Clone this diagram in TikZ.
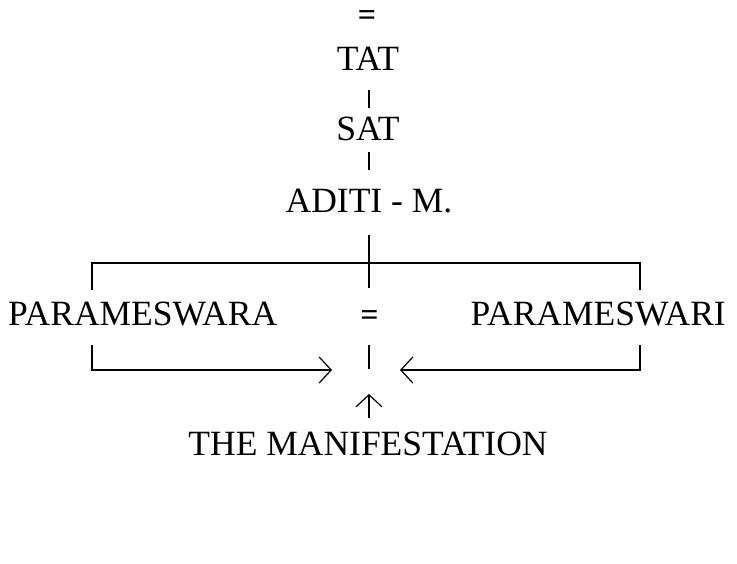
\documentclass[tikz,border=0pt]{standalone}
\usepackage{fontspec}
\setmainfont{Liberation Serif}
\usetikzlibrary{arrows.meta}
\begin{document}
\begin{tikzpicture}[x=1pt,y=1pt,
  lbl/.style={inner sep=0pt, font=\fontsize{35.5}{40}\selectfont},
  eq/.style={inner sep=0pt, font=\bfseries\fontsize{32}{36}\selectfont},
  ln/.style={line width=1.2pt, line cap=butt},
  arr/.style={ln, -{Straight Barb[length=12pt,width=26pt,line width=1.2pt]}}]
\useasboundingbox (0,0) rectangle (737,-563);
\node[eq, anchor=base] (eqtop) at (367,-25) {=};
\node[lbl, anchor=base] (tat) at (368,-70) {TAT};
\node[lbl, anchor=base] (sat) at (368,-140) {SAT};
\node[lbl, anchor=base] (aditi) at (369,-212) {ADITI - M.};
\node[lbl, anchor=base west] (pwa) at (8,-325) {PARAMESWARA};
\node[lbl, anchor=base east] (pwi) at (726,-325) {PARAMESWARI};
\node[eq, anchor=base] (eqmid) at (369.5,-325) {=};
\node[lbl, anchor=base] (man) at (368,-455) {THE MANIFESTATION};
% coordinates
\coordinate (b1a) at (369,-90);  \coordinate (b1b) at (369,-108);
\coordinate (b2a) at (369,-152); \coordinate (b2b) at (369,-170);
\coordinate (va) at (369,-235);  \coordinate (vb) at (369,-288);
\coordinate (lt) at (92,-290);   \coordinate (rt) at (640,-290);
\coordinate (hy) at (0,-263);
\coordinate (lb) at (92,-345);   \coordinate (rb) at (640,-345);
\coordinate (la) at (332,-370);  \coordinate (ra) at (400,-370);
\coordinate (ca) at (369,-345);  \coordinate (cb) at (369,-369);
\coordinate (ua) at (369,-418);  \coordinate (ub) at (369,-394);
% connectors
\draw[ln] (b1a) -- (b1b);
\draw[ln] (b2a) -- (b2b);
\draw[ln] (va) -- (vb);
\draw[ln] (lt) -- (lt |- hy) -- (rt |- hy) -- (rt);
\draw[arr] (lb) |- (la);
\draw[arr] (rb) |- (ra);
\draw[ln] (ca) -- (cb);
\draw[arr] (ua) -- (ub);
\end{tikzpicture}
\end{document}
